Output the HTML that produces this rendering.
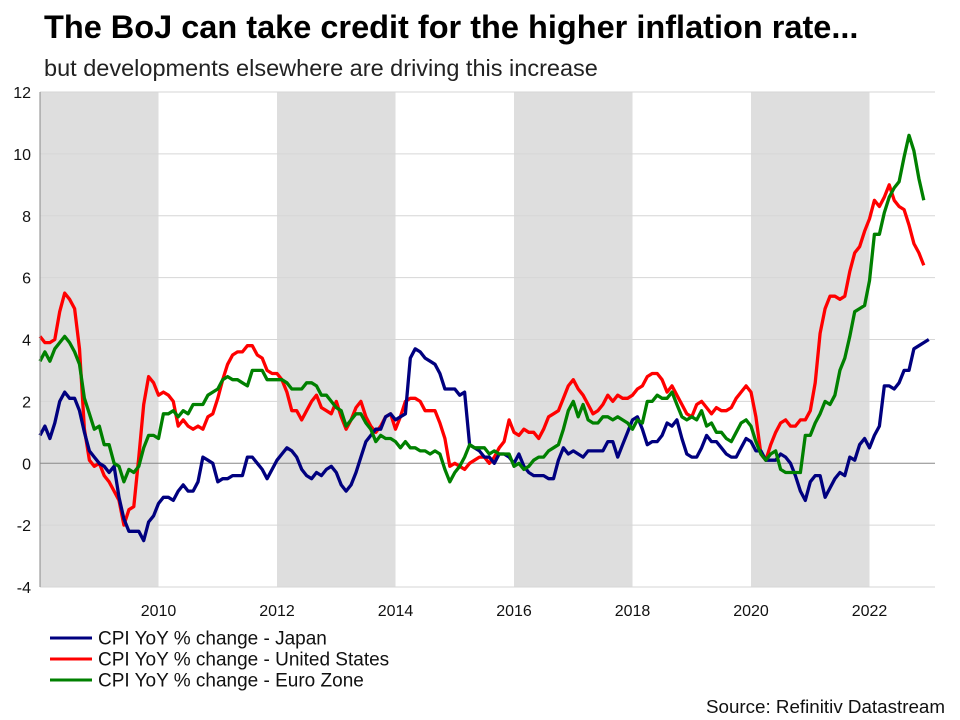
<!DOCTYPE html>
<html><head><meta charset="utf-8"><style>
body{margin:0;background:#fff;font-family:"Liberation Sans",Arial,sans-serif;}
#wrap{position:relative;width:960px;height:720px;overflow:hidden;}
</style></head><body>
<div id="wrap">
<svg id="chart" width="960" height="720">
<text x="44" y="38" font-size="32.5" font-weight="bold" fill="#000">The BoJ can take credit for the higher inflation rate...</text>
<text x="44" y="76" font-size="23.5" fill="#222">but developments elsewhere are driving this increase</text>
<g id="bands"></g><g id="grid"></g><g id="series"></g><g id="axes"></g>
<g>
<line x1="50" y1="638" x2="92" y2="638" stroke="#00007f" stroke-width="3"/>
<text x="98" y="644.5" font-size="19" fill="#111">CPI YoY % change - Japan</text>
<line x1="50" y1="659" x2="92" y2="659" stroke="#ff0000" stroke-width="3"/>
<text x="98" y="665.5" font-size="19" fill="#111">CPI YoY % change - United States</text>
<line x1="50" y1="680" x2="92" y2="680" stroke="#008000" stroke-width="3"/>
<text x="98" y="686.5" font-size="19" fill="#111">CPI YoY % change - Euro Zone</text>
</g>
<text x="945" y="713" font-size="18.8" fill="#111" text-anchor="end">Source: Refinitiv Datastream</text>
</svg>
</div>
<script>
const yTicks=[-4,-2,0,2,4,6,8,10,12];
const xTickYears=[2010,2012,2014,2016,2018,2020,2022];
const shadedRanges=[[2008,2010],[2012,2014],[2016,2018],[2020,2022]];
const startYear=2008;
const japan=[0.9,1.2,0.8,1.3,2.0,2.3,2.1,2.1,1.7,1.0,0.4,0.2,
0.0,-0.1,-0.3,-0.1,-1.1,-1.8,-2.2,-2.2,-2.2,-2.5,-1.9,-1.7,
-1.3,-1.1,-1.1,-1.2,-0.9,-0.7,-0.9,-0.9,-0.6,0.2,0.1,0.0,
-0.6,-0.5,-0.5,-0.4,-0.4,-0.4,0.2,0.2,0.0,-0.2,-0.5,-0.2,
0.1,0.3,0.5,0.4,0.2,-0.2,-0.4,-0.5,-0.3,-0.4,-0.2,-0.1,
-0.3,-0.7,-0.9,-0.7,-0.3,0.2,0.7,0.9,1.1,1.1,1.5,1.6,
1.4,1.5,1.6,3.4,3.7,3.6,3.4,3.3,3.2,2.9,2.4,2.4,
2.4,2.2,2.3,0.6,0.5,0.4,0.2,0.2,0.0,0.3,0.3,0.2,
0.0,0.3,-0.1,-0.3,-0.4,-0.4,-0.4,-0.5,-0.5,0.1,0.5,0.3,
0.4,0.3,0.2,0.4,0.4,0.4,0.4,0.7,0.7,0.2,0.6,1.0,
1.4,1.5,1.1,0.6,0.7,0.7,0.9,1.3,1.2,1.4,0.8,0.3,
0.2,0.2,0.5,0.9,0.7,0.7,0.5,0.3,0.2,0.2,0.5,0.8,
0.7,0.4,0.4,0.1,0.1,0.1,0.3,0.2,0.0,-0.4,-0.9,-1.2,
-0.6,-0.4,-0.4,-1.1,-0.8,-0.5,-0.3,-0.4,0.2,0.1,0.6,0.8,
0.5,0.9,1.2,2.5,2.5,2.4,2.6,3.0,3.0,3.7,3.8,3.9,4.0];
const us=[4.1,3.9,3.9,4.0,4.9,5.5,5.3,5.0,3.7,1.1,0.1,-0.1,
0.0,-0.4,-0.6,-0.9,-1.2,-2.0,-1.5,-1.4,0.2,1.9,2.8,2.6,
2.2,2.3,2.2,2.0,1.2,1.4,1.2,1.1,1.2,1.1,1.5,1.6,
2.1,2.7,3.2,3.5,3.6,3.6,3.8,3.8,3.5,3.4,3.0,2.9,
2.9,2.7,2.3,1.7,1.7,1.4,1.7,2.0,2.2,1.8,1.7,1.6,
2.0,1.5,1.1,1.4,1.8,2.0,1.5,1.2,1.0,1.2,1.5,1.6,
1.1,1.5,2.0,2.1,2.1,2.0,1.7,1.7,1.7,1.3,0.8,-0.1,
0.0,-0.1,-0.2,0.0,0.1,0.2,0.2,0.0,0.2,0.5,0.7,1.4,
1.0,0.9,1.1,1.0,1.0,0.8,1.1,1.5,1.6,1.7,2.1,2.5,
2.7,2.4,2.2,1.9,1.6,1.7,1.9,2.2,2.0,2.2,2.1,2.1,
2.2,2.4,2.5,2.8,2.9,2.9,2.7,2.3,2.5,2.2,1.9,1.6,
1.5,1.9,2.0,1.8,1.6,1.8,1.7,1.7,1.8,2.1,2.3,2.5,
2.3,1.5,0.3,0.1,0.6,1.0,1.3,1.4,1.2,1.2,1.4,1.4,
1.7,2.6,4.2,5.0,5.4,5.4,5.3,5.4,6.2,6.8,7.0,7.5,
7.9,8.5,8.3,8.6,9.0,8.5,8.3,8.2,7.7,7.1,6.8,6.4];
const euro=[3.3,3.6,3.3,3.7,3.9,4.1,3.9,3.6,3.2,2.1,1.6,1.1,
1.2,0.6,0.6,0.0,-0.1,-0.6,-0.2,-0.3,-0.1,0.5,0.9,0.9,
0.8,1.6,1.6,1.7,1.5,1.7,1.6,1.9,1.9,1.9,2.2,2.3,
2.4,2.7,2.8,2.7,2.7,2.6,2.5,3.0,3.0,3.0,2.7,2.7,
2.7,2.7,2.6,2.4,2.4,2.4,2.6,2.6,2.5,2.2,2.2,2.0,
1.8,1.7,1.2,1.4,1.6,1.6,1.3,1.1,0.7,0.9,0.8,0.8,
0.7,0.5,0.7,0.5,0.5,0.4,0.4,0.3,0.4,0.3,-0.2,-0.6,
-0.3,-0.1,0.2,0.6,0.5,0.5,0.5,0.3,0.4,0.3,0.3,0.3,
-0.1,0.0,-0.2,-0.1,0.1,0.2,0.2,0.4,0.5,0.6,1.1,1.7,
2.0,1.5,1.9,1.4,1.3,1.3,1.5,1.5,1.4,1.5,1.4,1.3,
1.1,1.4,1.3,2.0,2.0,2.2,2.1,2.1,2.3,1.9,1.5,1.4,
1.5,1.4,1.7,1.2,1.3,1.0,1.0,0.8,0.7,1.0,1.3,1.4,
1.2,0.7,0.3,0.1,0.3,0.4,-0.2,-0.3,-0.3,-0.3,-0.3,0.9,
0.9,1.3,1.6,2.0,1.9,2.2,3.0,3.4,4.1,4.9,5.0,5.1,
5.9,7.4,7.4,8.1,8.6,8.9,9.1,9.9,10.6,10.1,9.2,8.5];
const X0=40,X1=935,Y0=92,Y1=587,PXY=59.25;
const xYear=y=>X0+(y-startYear)*PXY;
const xIdx=i=>xYear(startYear+i/12);
const yVal=v=>Y1-(v-(-4))*(Y1-Y0)/16;
const NS="http://www.w3.org/2000/svg";
function mk(tag,attrs,parent){const e=document.createElementNS(NS,tag);for(const k in attrs)e.setAttribute(k,attrs[k]);parent.appendChild(e);return e;}
const bands=document.getElementById('bands'),grid=document.getElementById('grid'),ser=document.getElementById('series'),axes=document.getElementById('axes');
shadedRanges.forEach(r=>{
const b=mk('rect',{x:xYear(r[0]),y:Y0,width:xYear(r[1])-xYear(r[0]),height:Y1-Y0,fill:'#dedede'},bands);


});
yTicks.forEach(t=>{
const y=yVal(t);
const l=mk('line',{x1:X0,x2:X1,y1:y,y2:y,stroke:t===0?'#888':'#d6d6d6','stroke-width':1},grid);


const tx=mk('text',{x:31,y:y+6,'font-size':16,'text-anchor':'end',fill:'#111'},axes);
tx.textContent=t;


});
xTickYears.forEach(yr=>{
const tx=mk('text',{x:xYear(yr),y:616,'font-size':16,'text-anchor':'middle',fill:'#111'},axes);
tx.textContent=yr;


});
const ax=mk('line',{x1:X0,x2:X0,y1:Y0,y2:Y1,stroke:'#888','stroke-width':1},axes);


[[us,'#ff0000','line-us'],[japan,'#00007f','line-japan'],[euro,'#008000','line-euro']].forEach(s=>{
const d=s[0].map((v,i)=>(i?'L':'M')+xIdx(i).toFixed(1)+','+yVal(v).toFixed(1)).join(' ');
const p=mk('path',{d:d,fill:'none',stroke:s[1],'stroke-width':3.3,'stroke-linejoin':'round'},ser);


});
</script>
</body></html>
